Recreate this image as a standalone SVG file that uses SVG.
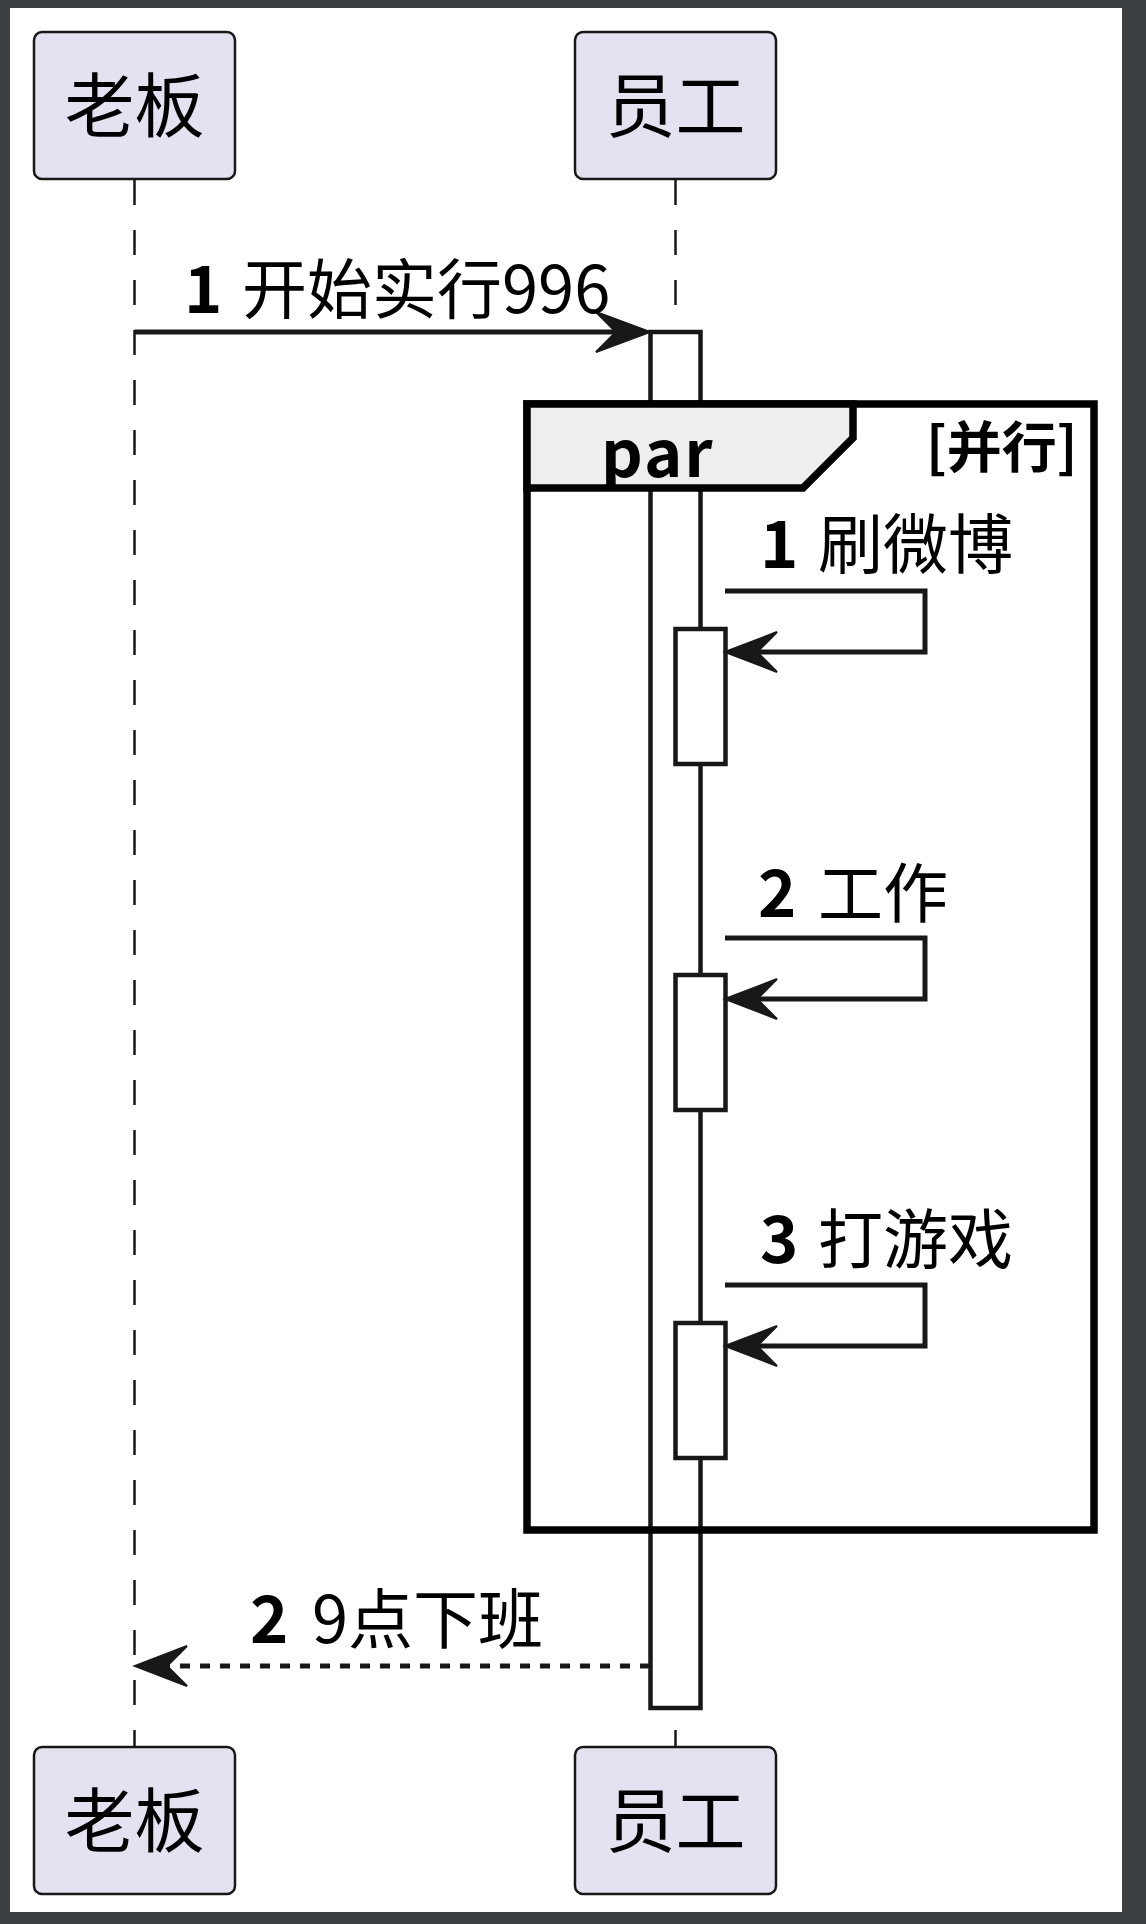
<svg xmlns="http://www.w3.org/2000/svg" width="1146" height="1924" viewBox="0 0 1146 1924">
<defs>
<style>
.bg{fill:#3c3f41}
.page{fill:#ffffff}
.pbox{fill:#E2E2F0;stroke:#181818;stroke-width:2.5}
.ptxt{font-family:"Noto Sans CJK SC","Noto Sans",sans-serif;font-size:70px;fill:#000000;text-anchor:middle}
.life{stroke:#181818;stroke-width:2.5;stroke-dasharray:25,25;fill:none}
.act{fill:#ffffff;stroke:#181818;stroke-width:4.5}
.msg{stroke:#181818;stroke-width:5;fill:none}
.dot{stroke:#181818;stroke-width:5;fill:none;stroke-dasharray:10,10}
.head{fill:#181818;stroke:#181818;stroke-width:2}
.num{font-family:"Noto Sans CJK SC","Noto Sans",sans-serif;font-size:65px;font-weight:bold;fill:#000000}
.lbl{font-family:"Noto Sans CJK SC","Noto Sans",sans-serif;font-size:65px;fill:#000000}
.frame{fill:none;stroke:#000000;stroke-width:7.5}
.tab{fill:#EEEEEE;stroke:#000000;stroke-width:7.5}
.ftitle{font-family:"Noto Sans CJK SC","Noto Sans",sans-serif;font-size:65px;font-weight:bold;fill:#000000}
.fcond{font-family:"Noto Sans CJK SC","Noto Sans",sans-serif;font-size:55px;font-weight:bold;fill:#000000}
</style>
</defs>
<rect class="bg" x="0" y="0" width="1146" height="1924"/>
<rect class="page" x="10" y="8" width="1112" height="1904"/>

<g id="lifelines">
<line class="life" x1="134.5" y1="180" x2="134.5" y2="1746"/>
<line class="life" x1="675.5" y1="180" x2="675.5" y2="1746"/>
</g>

<g id="activation-main">
<rect class="act" x="650.5" y="332" width="50" height="1376"/>
</g>

<g id="par-frame">
<rect class="frame" x="527" y="404" width="567" height="1126"/>
<polygon class="tab" points="527,404 853,404 853,438 803,488 527,488"/>
<text class="ftitle" x="601" y="477" letter-spacing="2">par</text>
<text class="fcond" x="926" y="467">[并行]</text>
</g>

<g id="activation-1"><rect class="act" x="675.5" y="629" width="50" height="135"/></g>
<g id="activation-2"><rect class="act" x="675.5" y="975" width="50" height="135"/></g>
<g id="activation-3"><rect class="act" x="675.5" y="1323" width="50" height="135"/></g>

<g id="connectors">
<line class="msg" x1="134.5" y1="332" x2="645" y2="332"/>
<polygon class="head" points="650,332 596,312 616,332 596,352"/>

<polyline class="msg" points="725,591 925,591 925,652 730,652"/>
<polygon class="head" points="725,652 777,632 757,652 777,672"/>

<polyline class="msg" points="725,938 925,938 925,999 730,999"/>
<polygon class="head" points="725,999 777,979 757,999 777,1019"/>

<polyline class="msg" points="725,1285 925,1285 925,1346 730,1346"/>
<polygon class="head" points="725,1346 777,1326 757,1346 777,1366"/>

<line class="dot" x1="650" y1="1666" x2="145" y2="1666"/>
<polygon class="head" points="135,1666 187,1646 167,1666 187,1686"/>
</g>

<g id="labels">
<text class="num" x="184" y="313">1</text><text class="lbl" x="242" y="313">开始实行996</text>
<text class="num" x="760" y="568">1</text><text class="lbl" x="818" y="568">刷微博</text>
<text class="num" x="758" y="917">2</text><text class="lbl" x="818" y="917">工作</text>
<text class="num" x="760" y="1263">3</text><text class="lbl" x="818" y="1263">打游戏</text>
<text class="num" x="250" y="1643">2</text><text class="lbl" x="312" y="1643">9点下班</text>
</g>

<g id="participant-boss-top">
<rect class="pbox" x="34" y="32" width="201" height="147" rx="8" ry="8"/>
<text class="ptxt" x="134.5" y="132">老板</text>
</g>
<g id="participant-staff-top">
<rect class="pbox" x="575" y="32" width="201" height="147" rx="8" ry="8"/>
<text class="ptxt" x="675.5" y="132">员工</text>
</g>
<g id="participant-boss-bottom">
<rect class="pbox" x="34" y="1747" width="201" height="147" rx="8" ry="8"/>
<text class="ptxt" x="134.5" y="1847">老板</text>
</g>
<g id="participant-staff-bottom">
<rect class="pbox" x="575" y="1747" width="201" height="147" rx="8" ry="8"/>
<text class="ptxt" x="675.5" y="1847">员工</text>
</g>
</svg>
